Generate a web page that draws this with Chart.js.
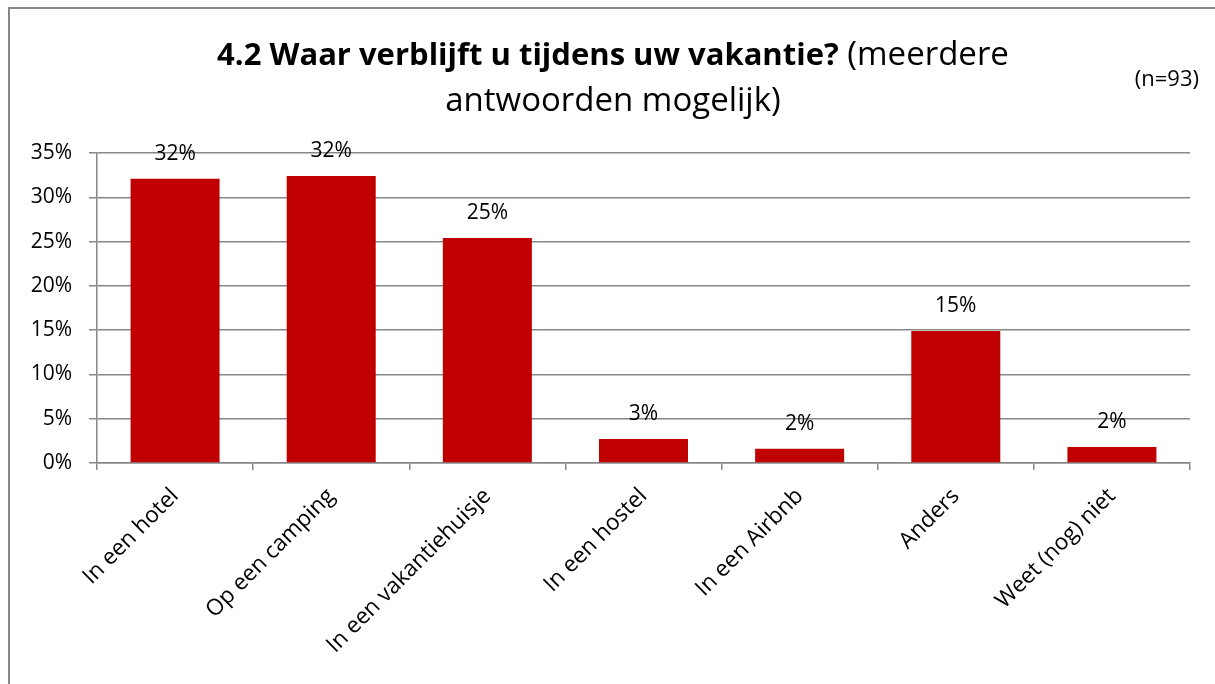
<!DOCTYPE html>
<html>
<head>
<meta charset="utf-8">
<script src="https://cdn.jsdelivr.net/npm/chart.js@4.4.1/dist/chart.umd.min.js"></script>
<style>
  html, body { margin: 0; padding: 0; background: #ffffff; }
  #wrap { position: relative; width: 1215px; height: 684px; }
  canvas { display: block; }
</style>
</head>
<body>
<div id="wrap"><canvas id="c" width="1215" height="684"></canvas></div>
<script>
// ---- data ----
const categories = ["In een hotel", "Op een camping", "In een vakantiehuisje", "In een hostel", "In een Airbnb", "Anders", "Weet (nog) niet"];
const values = [32.1, 32.4, 25.4, 2.7, 1.6, 14.9, 1.8];
const yMin = 0;
const yMax = 35;
const yStep = 5;
const titleBold = "4.2 Waar verblijft u tijdens uw vakantie?";
const titleNormal = " (meerdere";
const titleLine2 = "antwoorden mogelijk)";
const sampleNote = "(n=93)";

const FONT = "'Open Sans', 'DejaVu Sans', sans-serif";
const GRID = "#878787";
const BAR = "#C00000";

const framePlugin = {
  id: 'frame',
  beforeDraw(chart) {
    const ctx = chart.ctx;
    ctx.save();
    ctx.fillStyle = '#ffffff';
    ctx.fillRect(0, 0, chart.width, chart.height);
    ctx.fillStyle = GRID;
    ctx.fillRect(8, 7, chart.width - 8, 2);
    ctx.fillRect(8, 7, 2, chart.height - 7);
    ctx.restore();
  }
};

const titlePlugin = {
  id: 'titleText',
  afterDraw(chart) {
    const ctx = chart.ctx;
    ctx.save();
    ctx.fillStyle = '#000000';
    ctx.textBaseline = 'alphabetic';
    ctx.textAlign = 'left';
    const cx = 613;
    const boldFont = "bold 31px " + FONT;
    const normFont = "33px " + FONT;
    ctx.font = boldFont;
    const wb = ctx.measureText(titleBold).width;
    ctx.font = normFont;
    const wn = ctx.measureText(titleNormal).width;
    const x = cx - (wb + wn) / 2;
    ctx.font = boldFont;
    ctx.fillText(titleBold, x, 65);
    ctx.font = normFont;
    ctx.fillText(titleNormal, x + wb, 65);
    ctx.textAlign = 'center';
    ctx.fillText(titleLine2, cx, 111);
    ctx.font = "22px " + FONT;
    ctx.textAlign = 'right';
    ctx.textBaseline = 'middle';
    ctx.fillText(sampleNote, 1199, 80);
    ctx.restore();
  }
};

const labelPlugin = {
  id: 'barLabels',
  afterDatasetsDraw(chart) {
    const ctx = chart.ctx;
    const meta = chart.getDatasetMeta(0);
    ctx.save();
    ctx.fillStyle = '#000000';
    ctx.font = "21px " + FONT;
    ctx.textAlign = 'center';
    ctx.textBaseline = 'alphabetic';
    meta.data.forEach((bar, i) => {
      ctx.fillText(Math.round(values[i]) + '%', bar.x, bar.y - 19);
    });
    ctx.restore();
  }
};

new Chart(document.getElementById('c'), {
  type: 'bar',
  data: {
    labels: categories,
    datasets: [{
      data: values,
      backgroundColor: BAR,
      borderWidth: 0,
      barPercentage: 0.57,
      categoryPercentage: 1.0
    }]
  },
  options: {
    responsive: false,
    devicePixelRatio: 1,
    animation: false,
    layout: { padding: { top: 153, left: 0, right: 25, bottom: 0 } },
    plugins: {
      legend: { display: false },
      title: { display: false },
      tooltip: { enabled: false }
    },
    scales: {
      x: {
        afterFit(scale) { scale.height = 221; },
        grid: {
          offset: true,
          drawOnChartArea: false,
          drawTicks: true,
          tickLength: 7,
          color: GRID,
          lineWidth: 1.5
        },
        border: { display: true, color: GRID, width: 1.5 },
        ticks: {
          minRotation: 45,
          maxRotation: 45,
          autoSkip: false,
          padding: 13,
          color: '#000000',
          font: { family: FONT, size: 22.5 }
        }
      },
      y: {
        min: yMin,
        max: yMax,
        afterFit(scale) { scale.width = 97; },
        grid: {
          color: GRID,
          lineWidth: 1.5,
          drawTicks: true,
          tickLength: 8
        },
        border: { display: true, color: GRID, width: 1.5 },
        ticks: {
          stepSize: yStep,
          padding: 17,
          color: '#000000',
          font: { family: FONT, size: 21 },
          callback: (v) => v + '%'
        }
      }
    }
  },
  plugins: [framePlugin, titlePlugin, labelPlugin]
});
</script>
</body>
</html>
